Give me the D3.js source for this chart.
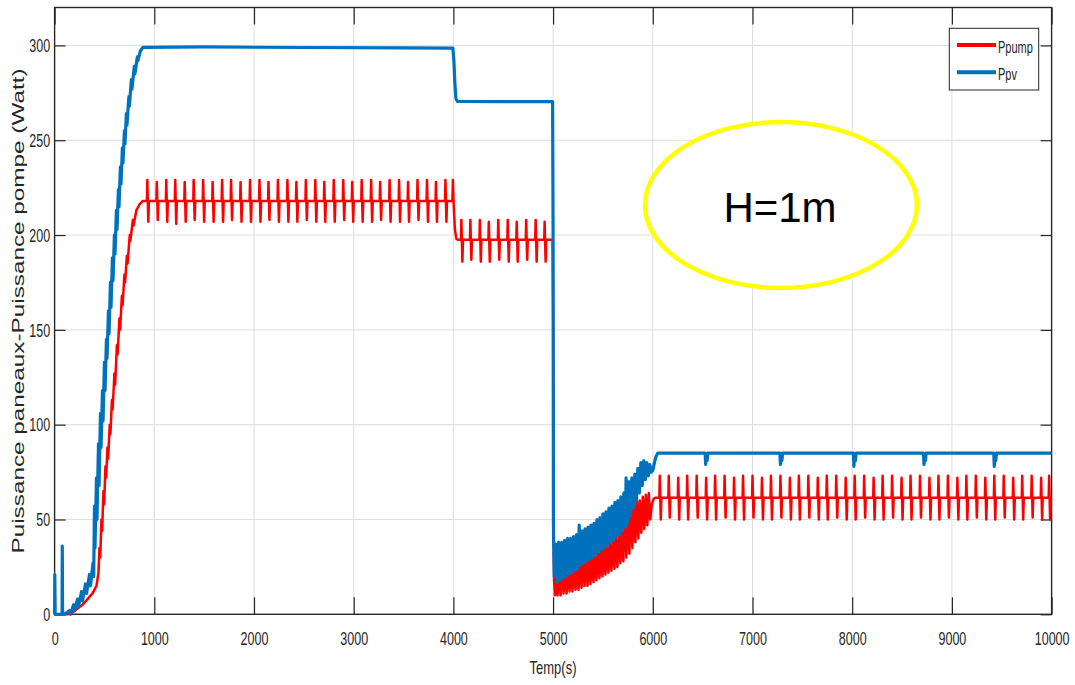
<!DOCTYPE html>
<html>
<head>
<meta charset="utf-8">
<script src="https://cdn.jsdelivr.net/npm/d3@7"></script>
<style>
  body { margin: 0; background: #fff; }
  text { font-family: "Liberation Sans", Arial, sans-serif; fill: #262626; }
</style>
</head>
<body>
<div id="chart"></div>
<script>
// Tick values
const xTicks = [0, 1000, 2000, 3000, 4000, 5000, 6000, 7000, 8000, 9000, 10000];
const yTicks = [0, 50, 100, 150, 200, 250, 300];
const seriesNames = ["Ppump", "Ppv"];

// Ppump (red), [time s, power W]
const ppumpRise = [[0,0],[130,0],[180,1],[230,3],[280,5],[330,8],[380,11],[420,15],[440,22],[450,35],[458,30],
  [470,50],[477,44],[490,65],[497,58],[510,78],[517,72],[530,88],[537,82],[553,100],[560,95],[575,113],[582,108],
  [600,127],[607,121],[625,142],[632,137],[650,156],[657,150],[675,168],[682,163],[700,179],[707,175],[725,189],
  [732,185],[754,200],[760,197],[785,208],[792,205],[820,213],[850,216],[885,218]];

const ppumpHigh = [
  [926,218],[930,229],[940,207],[946,218],[1021,218],[1025,228],[1035,208],[1041,218],
  [1116,218],[1120,229],[1130,207],[1136,218],[1206,218],[1210,229],[1220,206],[1226,218],
  [1301,218],[1305,228],[1315,207],[1321,218],[1391,218],[1395,229],[1405,208],[1411,218],
  [1486,218],[1490,229],[1500,207],[1506,218],[1581,218],[1585,228],[1595,207],[1601,218],
  [1676,218],[1680,229],[1690,207],[1696,218],[1766,218],[1770,229],[1780,208],[1786,218],
  [1861,218],[1865,228],[1875,207],[1881,218],[1956,218],[1960,229],[1970,207],[1976,218],
  [2051,218],[2055,229],[2065,207],[2071,218],[2141,218],[2145,228],[2155,208],[2161,218],
  [2236,218],[2240,229],[2250,207],[2256,218],[2331,218],[2335,229],[2345,207],[2351,218],
  [2421,218],[2425,228],[2435,207],[2441,218],[2516,218],[2520,229],[2530,208],[2536,218],
  [2611,218],[2615,229],[2625,207],[2631,218],[2701,218],[2705,228],[2715,207],[2721,218],
  [2796,218],[2800,229],[2810,207],[2816,218],[2891,218],[2895,229],[2905,208],[2911,218],
  [2981,218],[2985,228],[2995,207],[3001,218],[3076,218],[3080,229],[3090,207],[3096,218],
  [3171,218],[3175,229],[3185,207],[3191,218],[3261,218],[3265,228],[3275,208],[3281,218],
  [3356,218],[3360,229],[3370,207],[3376,218],[3451,218],[3455,229],[3465,207],[3471,218],
  [3541,218],[3545,228],[3555,207],[3561,218],[3636,218],[3640,229],[3650,208],[3656,218],
  [3731,218],[3735,229],[3745,207],[3751,218],[3821,218],[3825,228],[3835,207],[3841,218],
  [3916,218],[3920,229],[3930,207],[3936,218],[3990,218],[3995,229],[4003,216],[4015,203],
  [4030,198],[4045,197.5]];

const ppumpMid = [
  [4076,197.5],[4080,208],[4090,186],[4096,197.5],[4166,197.5],[4170,208],[4180,187],[4186,197.5],
  [4261,197.5],[4265,208],[4275,186],[4281,197.5],[4351,197.5],[4355,207],[4365,186],[4371,197.5],
  [4446,197.5],[4450,208],[4460,187],[4466,197.5],[4541,197.5],[4545,208],[4555,186],[4561,197.5],
  [4631,197.5],[4635,207],[4645,186],[4651,197.5],[4726,197.5],[4730,208],[4740,187],[4746,197.5],
  [4821,197.5],[4825,208],[4835,186],[4841,197.5],[4911,197.5],[4915,207],[4925,186],[4931,197.5],
  [4995,197.5]];

const ppumpDip = [
  [5002,150],[5005,45],[5010,18],[5018,10],[5030,26],[5045,10],[5060,27],[5075,10],[5090,26],[5105,11],
  [5120,27],[5135,11],[5150,27],[5165,12],[5180,28],[5195,12],[5210,28],[5225,13],[5240,29],[5255,13],
  [5270,29],[5285,14],[5300,30],[5315,15],[5330,31],[5345,15],[5360,31],[5375,16],[5390,32],[5405,17],
  [5420,33],[5435,18],[5450,34],[5465,19],[5480,35],[5495,20],[5510,36],[5525,21],[5540,37],[5555,22],
  [5570,38],[5585,23],[5600,40],[5615,24],[5630,41],[5645,25],[5660,43],[5675,27],[5690,45],[5705,28],
  [5720,60],[5735,30],[5750,58],[5765,32],[5780,62],[5795,35],[5810,60],[5825,38],[5840,62],[5855,40],
  [5870,60],[5885,43],[5900,62],[5915,45],[5930,63],[5945,47],[5960,64],[5975,50],[5990,58],[6010,61],
  [6030,61.5]];

const ppumpLow = [
  [6066,61.5],[6070,73],[6080,50],[6086,61.5],[6156,61.5],[6160,73],[6170,51],[6176,61.5],
  [6251,61.5],[6255,72],[6265,50],[6271,61.5],[6341,61.5],[6345,73],[6355,50],[6361,61.5],
  [6436,61.5],[6440,73],[6450,51],[6456,61.5],[6531,61.5],[6535,72],[6545,50],[6551,61.5],
  [6621,61.5],[6625,73],[6635,50],[6641,61.5],[6716,61.5],[6720,73],[6730,51],[6736,61.5],
  [6811,61.5],[6815,72],[6825,50],[6831,61.5],[6901,61.5],[6905,73],[6915,50],[6921,61.5],
  [6996,61.5],[7000,73],[7010,51],[7016,61.5],[7091,61.5],[7095,72],[7105,50],[7111,61.5],
  [7181,61.5],[7185,73],[7195,50],[7201,61.5],[7276,61.5],[7280,73],[7290,51],[7296,61.5],
  [7371,61.5],[7375,72],[7385,50],[7391,61.5],[7461,61.5],[7465,73],[7475,50],[7481,61.5],
  [7556,61.5],[7560,73],[7570,51],[7576,61.5],[7651,61.5],[7655,72],[7665,50],[7671,61.5],
  [7741,61.5],[7745,73],[7755,50],[7761,61.5],[7836,61.5],[7840,73],[7850,51],[7856,61.5],
  [7931,61.5],[7935,72],[7945,50],[7951,61.5],[8021,61.5],[8025,73],[8035,50],[8041,61.5],
  [8116,61.5],[8120,73],[8130,51],[8136,61.5],[8211,61.5],[8215,72],[8225,50],[8231,61.5],
  [8301,61.5],[8305,73],[8315,50],[8321,61.5],[8396,61.5],[8400,73],[8410,51],[8416,61.5],
  [8491,61.5],[8495,72],[8505,50],[8511,61.5],[8581,61.5],[8585,73],[8595,50],[8601,61.5],
  [8676,61.5],[8680,73],[8690,51],[8696,61.5],[8771,61.5],[8775,72],[8785,50],[8791,61.5],
  [8861,61.5],[8865,73],[8875,50],[8881,61.5],[8956,61.5],[8960,73],[8970,51],[8976,61.5],
  [9051,61.5],[9055,72],[9065,50],[9071,61.5],[9141,61.5],[9145,73],[9155,50],[9161,61.5],
  [9236,61.5],[9240,73],[9250,51],[9256,61.5],[9331,61.5],[9335,72],[9345,50],[9351,61.5],
  [9421,61.5],[9425,73],[9435,50],[9441,61.5],[9516,61.5],[9520,73],[9530,51],[9536,61.5],
  [9611,61.5],[9615,72],[9625,50],[9631,61.5],[9701,61.5],[9705,73],[9715,50],[9721,61.5],
  [9796,61.5],[9800,73],[9810,51],[9816,61.5],[9891,61.5],[9895,72],[9905,50],[9911,61.5],
  [9971,61.5],[9975,73],[9985,50],[9991,61.5],[10000,61.5]];

// Ppv (blue)
const ppvRise = [[0,0],[2,21],[6,0],[75,0],[77,36],[80,1],[100,0],[150,2],[160,0],[190,5],[200,2],[230,8],
  [240,4],[270,12],[280,7],[310,16],[320,11],[350,21],[360,15],[385,27],[392,20],[400,57],[405,35],[420,72],
  [425,50],[440,90],[446,68],[460,106],[466,88],[480,118],[486,102],[500,133],[506,118],[520,145],[526,135],
  [540,160],[546,148],[560,175],[566,162],[580,188],[586,176],[600,200],[606,190],[620,213],[626,203],
  [640,224],[646,215],[660,236],[666,227],[680,246],[686,238],[700,255],[706,248],[720,264],[726,258],
  [745,273],[750,268],[770,282],[776,277],[800,289],[806,285],[830,294],[836,292],[860,297],[885,299]];

const ppvHigh = [[885,299],[1500,299.2],[2500,298.9],[3500,298.7],[3995,298.6],[4005,292],[4015,280],
  [4025,272],[4040,270.5],[4500,270.4],[4995,270.4]];

const ppvDip = [[5000,200],[5003,48],[5008,30],[5012,20],[5025,37],[5040,17],[5055,38],[5070,18],[5085,38],
  [5100,19],[5115,39],[5130,20],[5145,40],[5160,21],[5175,40],[5190,22],[5205,41],[5220,23],[5235,42],
  [5250,24],[5262,47],[5275,26],[5290,44],[5305,27],[5320,45],[5335,28],[5350,46],[5365,29],[5380,47],
  [5395,30],[5410,48],[5425,31],[5440,50],[5455,33],[5470,51],[5485,34],[5500,53],[5515,35],[5530,54],
  [5545,36],[5560,56],[5575,38],[5590,57],[5605,39],[5620,59],[5635,41],[5650,60],[5665,42],[5680,62],
  [5695,44],[5710,64],[5725,46],[5732,72],[5745,48],[5760,70],[5775,52],[5790,72],[5805,56],[5820,74],
  [5835,60],[5850,77],[5865,64],[5880,80],[5895,68],[5910,81],[5925,71],[5940,80],[5955,73],[5970,79],
  [5985,75],[6000,76],[6030,83],[6050,85]];

const ppvLow = [[6050,85],[6525,85],[6530,79],[6537,84.5],[6545,81],[6552,85],[7275,85],[7280,79],[7287,84],
  [7295,81],[7302,85],[8012,85],[8017,78],[8024,84],[8032,81],[8040,85],[8715,85],[8720,79],[8727,84],
  [8735,81],[8742,85],[9420,85],[9425,78],[9432,84],[9440,81],[9447,85],[10000,85]];

const ppump = [...ppumpRise, ...ppumpHigh, ...ppumpMid, ...ppumpDip, ...ppumpLow];
const ppv = [...ppvRise, ...ppvHigh, ...ppvDip, ...ppvLow];

// Chart size and plot box
const fullWidth = 1075;
const fullHeight = 685;
const plot = { left: 54.6, right: 1051.6, top: 7.5, bottom: 614.3 };

const svg = d3.select("#chart")
  .append("svg")
  .attr("width", fullWidth)
  .attr("height", fullHeight);

svg.append("rect").attr("width", fullWidth).attr("height", fullHeight).attr("fill", "#fff");

const x = d3.scaleLinear().domain([0, 10000]).range([plot.left, plot.right]);
const y = d3.scaleLinear().domain([0, 320]).range([plot.bottom, plot.top]);

// Grid lines
svg.append("g")
  .selectAll("line")
  .data(xTicks.slice(1, -1))
  .join("line")
  .attr("x1", d => x(d)).attr("x2", d => x(d))
  .attr("y1", plot.top).attr("y2", plot.bottom)
  .attr("stroke", "#dedede").attr("stroke-width", 1);

svg.append("g")
  .selectAll("line")
  .data(yTicks.slice(1))
  .join("line")
  .attr("x1", plot.left).attr("x2", plot.right)
  .attr("y1", d => y(d)).attr("y2", d => y(d))
  .attr("stroke", "#dedede").attr("stroke-width", 1);

// Axes, ticks pointing inward on all four sides
const fmt = d3.format("d");
const xAxisBottom = svg.append("g")
  .attr("transform", `translate(0,${plot.bottom})`)
  .call(d3.axisBottom(x).tickValues(xTicks).tickSizeInner(-17).tickSizeOuter(0).tickFormat(fmt));
svg.append("g")
  .attr("transform", `translate(0,${plot.top})`)
  .call(d3.axisTop(x).tickValues(xTicks).tickSizeInner(-17).tickSizeOuter(0).tickFormat(""));
const yAxisLeft = svg.append("g")
  .attr("transform", `translate(${plot.left},0)`)
  .call(d3.axisLeft(y).tickValues(yTicks).tickSizeInner(-11).tickSizeOuter(0).tickFormat(fmt));
svg.append("g")
  .attr("transform", `translate(${plot.right},0)`)
  .call(d3.axisRight(y).tickValues(yTicks).tickSizeInner(-11).tickSizeOuter(0).tickFormat(""));

svg.selectAll(".domain").remove();
svg.selectAll(".tick line").attr("stroke", "#262626").attr("stroke-width", 1.2);

xAxisBottom.selectAll("text")
  .attr("y", null).attr("dy", null)
  .attr("transform", "translate(0,31) scale(1,1.4)")
  .attr("font-size", 12.5)
  .attr("text-anchor", "middle")
  .attr("fill", "#262626");

yAxisLeft.selectAll("text")
  .attr("x", null).attr("dy", null)
  .attr("transform", "translate(-4.5,6.3) scale(1,1.4)")
  .attr("font-size", 12.5)
  .attr("text-anchor", "end")
  .attr("fill", "#262626");

svg.append("rect")
  .attr("x", plot.left).attr("y", plot.top)
  .attr("width", plot.right - plot.left).attr("height", plot.bottom - plot.top)
  .attr("fill", "none").attr("stroke", "#262626").attr("stroke-width", 1.4);

// Axis titles
svg.append("text")
  .attr("transform", "translate(553,674) scale(1,1.4)")
  .attr("text-anchor", "middle")
  .attr("font-size", 13)
  .text("Temp(s)");

svg.append("text")
  .attr("transform", "translate(23.5,311) rotate(-90)")
  .attr("text-anchor", "middle")
  .attr("font-size", 16.5)
  .attr("textLength", 485)
  .attr("lengthAdjust", "spacingAndGlyphs")
  .text("Puissance paneaux-Puissance pompe (Watt)");

// Series lines
const line = d3.line().x(d => x(d[0])).y(d => y(d[1]));

svg.append("path")
  .datum(ppump)
  .attr("d", line)
  .attr("fill", "none")
  .attr("stroke", "#ff0000")
  .attr("stroke-width", 2.5)
  .attr("stroke-linejoin", "round");

svg.append("path")
  .datum(ppv)
  .attr("d", line)
  .attr("fill", "none")
  .attr("stroke", "#0072bd")
  .attr("stroke-width", 3.2)
  .attr("stroke-linejoin", "round");

// Legend
const legend = svg.append("g");
legend.append("rect")
  .attr("x", 949.3).attr("y", 28.3).attr("width", 89.4).attr("height", 61.7)
  .attr("fill", "#fff").attr("stroke", "#262626").attr("stroke-width", 1);

const legendColors = ["#ff0000", "#0072bd"];
seriesNames.forEach((name, i) => {
  const ly = 45 + i * 27.3;
  legend.append("line")
    .attr("x1", 957).attr("x2", 996)
    .attr("y1", ly).attr("y2", ly)
    .attr("stroke", legendColors[i]).attr("stroke-width", 4);
  legend.append("text")
    .attr("transform", `translate(998,${ly + 7.5}) scale(1,1.45)`)
    .attr("font-size", 11)
    .attr("fill", "#000")
    .text(name);
});

// Yellow ellipse annotation
svg.append("ellipse")
  .attr("cx", 781).attr("cy", 205).attr("rx", 136).attr("ry", 83)
  .attr("fill", "#fff").attr("stroke", "#ffff00").attr("stroke-width", 4.5);

svg.append("text")
  .attr("x", 780).attr("y", 222)
  .attr("text-anchor", "middle")
  .attr("font-family", "'Open Sans', sans-serif")
  .attr("font-size", 42)
  .style("fill", "#000")
  .text("H=1m");
</script>
</body>
</html>
